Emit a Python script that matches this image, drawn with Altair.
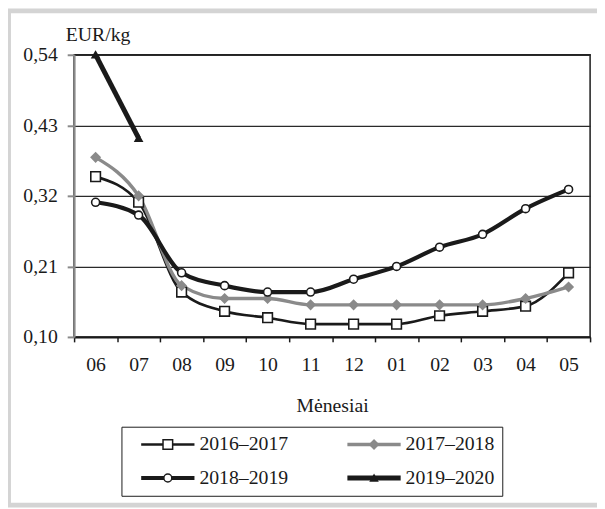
import altair as alt
import pandas as pd

months = ["06", "07", "08", "09", "10", "11", "12", "01", "02", "03", "04", "05"]
series_names = ["2016–2017", "2017–2018", "2018–2019", "2019–2020"]
s1617 = [0.35, 0.31, 0.17, 0.14, 0.13, 0.12, 0.12, 0.12, 0.133, 0.14, 0.148, 0.20]
s1718 = [0.38, 0.32, 0.18, 0.16, 0.16, 0.15, 0.15, 0.15, 0.15, 0.15, 0.16, 0.178]
s1819 = [0.31, 0.29, 0.20, 0.18, 0.17, 0.17, 0.19, 0.21, 0.24, 0.26, 0.30, 0.33]
s1920 = [0.54, 0.41]
y_ticks = [0.10, 0.21, 0.32, 0.43, 0.54]

rows = []
for name, vals in zip(series_names, [s1617, s1718, s1819, s1920]):
    for m, v in zip(months, vals):
        rows.append({"month": m, "value": v, "series": name, "series2": name})
df = pd.DataFrame(rows)

FONT = "Liberation Serif"
line_colors = ["#1a1a1a", "#8a8a8a", "#1a1a1a", "#1a1a1a"]
line_widths = [2.7, 5, 6.5, 5]

x_enc = alt.X(
    "month:N", sort=months, bandPosition=0.5,
    scale=alt.Scale(type="band", paddingInner=0, paddingOuter=0),
    axis=alt.Axis(
        title="Mėnesiai", tickBand="extent", labelAngle=0,
        domainColor="#1a1a1a", domainWidth=2, tickColor="#1a1a1a", tickWidth=1.5,
        tickSize=5, labelPadding=13, labelFont=FONT, labelFontSize=20,
        labelColor="#1a1a1a", titleFont=FONT, titleFontSize=20,
        titleFontWeight="normal", titleColor="#1a1a1a", titlePadding=22, grid=False,
    ),
)
y_enc = alt.Y(
    "value:Q",
    scale=alt.Scale(domain=[0.10, 0.54], nice=False, zero=False),
    axis=alt.Axis(
        values=y_ticks, labelExpr="replace(format(datum.value, '.2f'), '.', ',')",
        title="EUR/kg", titleAngle=0, titleAlign="left", titleBaseline="alphabetic",
        titleX=-9, titleY=-14, titleFont=FONT, titleFontSize=20,
        titleFontWeight="normal", titleColor="#1a1a1a",
        labelFont=FONT, labelFontSize=20, labelColor="#1a1a1a", labelPadding=10,
        domainColor="#8a8a8a", domainWidth=2, tickColor="#8a8a8a", tickWidth=2,
        tickSize=7, grid=True, gridColor="#2a2a2a", gridWidth=1.3,
    ),
)

legend_common = dict(
    orient="none", legendY=377, columns=2, direction="horizontal", title=None,
    labelFont=FONT, labelFontSize=20, labelColor="#1a1a1a",
    symbolOffset=29, labelOffset=22, rowPadding=14, padding=8,
)

line_legend = alt.Legend(symbolType="M-5.4,0H5.4", symbolSize=100, strokeColor="#1a1a1a",
                         legendX=48, columnPadding=48, **legend_common)
lines = alt.Chart(df).mark_line(interpolate="monotone").encode(
    x=x_enc, y=y_enc,
    color=alt.Color("series:N", scale=alt.Scale(domain=series_names, range=line_colors),
                    legend=line_legend),
    strokeWidth=alt.StrokeWidth("series:N", scale=alt.Scale(domain=series_names, range=line_widths),
                                legend=line_legend),
)

point_legend = alt.Legend(labelExpr="''", legendX=48, columnPadding=138, **legend_common)
points = alt.Chart(df).mark_point(filled=False, opacity=1, strokeWidth=1.6).encode(
    x=x_enc, y=y_enc,
    shape=alt.Shape("series2:N", scale=alt.Scale(range=["square", "diamond", "circle", "triangle-up"]),
                    legend=point_legend),
    fill=alt.Fill("series2:N", scale=alt.Scale(range=["#ffffff", "#8a8a8a", "#ffffff", "#1a1a1a"]),
                  legend=point_legend),
    stroke=alt.Stroke("series2:N", scale=alt.Scale(range=["#1a1a1a", "#8a8a8a", "#1a1a1a", "#1a1a1a"]),
                      legend=point_legend),
    size=alt.Size("series2:N", scale=alt.Scale(range=[95, 50, 115, 160]), legend=point_legend),
)

frame = alt.Chart(alt.Data(values=[{}])).mark_rect(
    fill=None, stroke="#d4d4d4", strokeWidth=5
).encode(
    x=alt.value(-66.5), x2=alt.value(540), y=alt.value(-44.5), y2=alt.value(456.5)
)

chart = alt.layer(frame, lines, points).properties(
    width=523, height=286,
    padding={"left": 67, "top": 44, "right": 7, "bottom": 171},
    autosize=alt.AutoSizeParams(type="none"),
    background="white",
).configure_view(stroke="#1a1a1a", strokeWidth=1.5)

chart.save("out.html", embed_options={"renderer": "svg", "actions": False})
